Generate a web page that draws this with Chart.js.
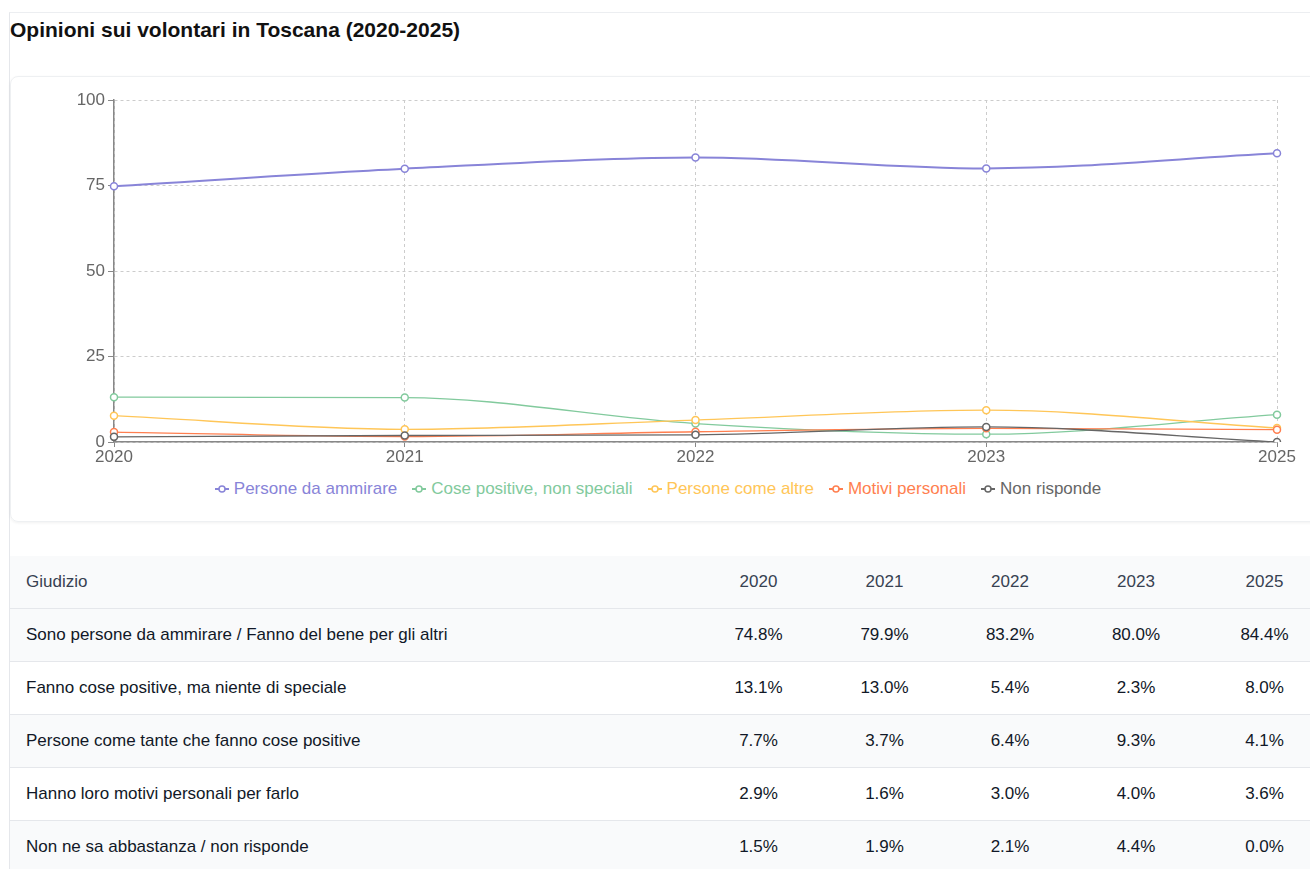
<!DOCTYPE html>
<html lang="it">
<head>
  <meta charset="UTF-8">
  <title>Opinioni sui volontari in Toscana</title>
  <script src="https://cdn.jsdelivr.net/npm/chart.js"></script>
  <style>
    html, body {
      margin: 0;
      background: #fff;
      overflow: hidden;
      font-family: "Liberation Sans", Arial, Helvetica, sans-serif;
    }
    .page {
      position: absolute;
      left: 9px;
      top: 12px;
      width: 1330px;
      border-left: 1px solid #e5e7eb;
      border-top: 1px solid #eceef1;
    }
    h2 {
      margin: 0;
      padding-top: 5px;
      height: 58px;
      font-size: 21px;
      font-weight: bold;
      color: #111;
      line-height: 24px;
    }
    .card {
      width: 1320px;
      height: 446px;
      border: 1px solid #eef0f2;
      border-radius: 8px;
      box-shadow: 0 1px 3px rgba(0,0,0,0.06);
      box-sizing: border-box;
      position: relative;
    }
    .chart-box {
      position: absolute;
      left: 16px;
      top: 9px;
      width: 1274px;
      height: 384px;
    }
    .legend {
      position: absolute;
      left: 16px;
      top: 400px;
      width: 1262px;
      display: flex;
      justify-content: center;
      font-size: 17px;
      line-height: 24px;
    }
    .legend-item {
      display: flex;
      align-items: center;
      margin: 0 7.5px;
    }
    .legend-item svg {
      margin-right: 5px;
    }
    table {
      margin-top: 34px;
      width: 1320px;
      border-collapse: collapse;
      table-layout: fixed;
      font-size: 17px;
      color: #111827;
    }
    th, td {
      padding: 14px 16px;
      line-height: 24px;
      border-bottom: 1px solid #e5e7eb;
      text-align: center;
      font-weight: normal;
    }
    th { color: #374151; background: #f9fafb; }
    th:first-child, td:first-child { text-align: left; }
    tbody tr:nth-child(odd) { background: #f9fafb; }
  </style>
</head>
<body>
  <div class="page">
    <h2>Opinioni sui volontari in Toscana (2020-2025)</h2>
    <div class="card">
      <div class="chart-box"><canvas id="volChart"></canvas></div>
      <div class="legend" id="chartLegend"></div>
    </div>
    <table>
      <colgroup>
        <col style="width:685px">
        <col style="width:127px"><col style="width:125px"><col style="width:126px"><col style="width:126px"><col style="width:131px">
      </colgroup>
      <thead><tr id="headRow"><th>Giudizio</th></tr></thead>
      <tbody id="tableBody"></tbody>
    </table>
  </div>

  <script>
    const years = ['2020', '2021', '2022', '2023', '2025'];
    const yTicks = [0, 25, 50, 75, 100];

    const shortNames = ['Persone da ammirare', 'Cose positive, non speciali', 'Persone come altre', 'Motivi personali', 'Non risponde'];
    const fullNames = [
      'Sono persone da ammirare / Fanno del bene per gli altri',
      'Fanno cose positive, ma niente di speciale',
      'Persone come tante che fanno cose positive',
      'Hanno loro motivi personali per farlo',
      'Non ne sa abbastanza / non risponde'
    ];

    const ammirare = [74.8, 79.9, 83.2, 80.0, 84.4];
    const cosePositive = [13.1, 13.0, 5.4, 2.3, 8.0];
    const comeAltre = [7.7, 3.7, 6.4, 9.3, 4.1];
    const motiviPersonali = [2.9, 1.6, 3.0, 4.0, 3.6];
    const nonRisponde = [1.5, 1.9, 2.1, 4.4, 0.0];

    const colors = ['#8884d8', '#82ca9d', '#ffc658', '#ff7f50', '#666666'];
    const widths = [2, 1.3, 1.3, 1.3, 1.3];
    const series = [ammirare, cosePositive, comeAltre, motiviPersonali, nonRisponde];

    const ctx = document.getElementById('volChart').getContext('2d');
    const chart = new Chart(ctx, {
      type: 'line',
      data: {
        labels: years,
        datasets: series.map((vals, i) => ({
          label: shortNames[i],
          data: vals,
          borderColor: colors[i],
          backgroundColor: '#fff',
          borderWidth: widths[i],
          pointRadius: 3.5,
          pointBorderWidth: 1.5,
          pointBackgroundColor: '#fff',
          pointBorderColor: colors[i],
          cubicInterpolationMode: 'monotone',
          fill: false,
          order: 5 - i
        }))
      },
      options: {
        responsive: true,
        maintainAspectRatio: false,
        animation: false,
        layout: { padding: { top: 14, right: 24, bottom: 0, left: 0 } },
        plugins: {
          legend: { display: false },
          tooltip: { enabled: true }
        },
        scales: {
          x: {
            offset: false,
            grid: {
              color: '#cccccc',
              tickColor: '#888',
              tickLength: 5,
              tickBorderDash: []
            },
            // in v4 border.dash tratteggia le linee della griglia
            border: { color: '#888', width: 1.5, dash: [3, 3] },
            ticks: { color: '#666', font: { size: 17 }, padding: 0, maxRotation: 0 },
            afterFit: s => { s.height = 28; }
          },
          y: {
            min: 0,
            max: 100,
            afterBuildTicks: s => { s.ticks = yTicks.map(v => ({ value: v })); },
            grid: {
              color: '#cccccc',
              tickColor: '#888',
              tickLength: 6,
              tickBorderDash: []
            },
            border: { color: '#888', width: 1.5, dash: [3, 3] },
            ticks: { color: '#666', font: { size: 17 }, padding: 3 },
            afterFit: s => { s.width = 87; }
          }
        }
      }
    });

    // legend con icona linea + cerchio
    const legendContainer = document.getElementById('chartLegend');
    shortNames.forEach((name, i) => {
      const item = document.createElement('div');
      item.className = 'legend-item';
      item.style.color = colors[i];
      item.innerHTML =
        '<svg width="14" height="14" viewBox="0 0 14 14">' +
        '<line x1="0" y1="7" x2="14" y2="7" stroke="' + colors[i] + '" stroke-width="2"/>' +
        '<circle cx="7" cy="7" r="3" fill="#fff" stroke="' + colors[i] + '" stroke-width="1.5"/></svg>';
      const span = document.createElement('span');
      span.textContent = name;
      item.appendChild(span);
      legendContainer.appendChild(item);
    });

    // tabella
    const headRow = document.getElementById('headRow');
    years.forEach(y => {
      const th = document.createElement('th');
      th.textContent = y;
      headRow.appendChild(th);
    });
    const tbody = document.getElementById('tableBody');
    fullNames.forEach((name, i) => {
      const tr = document.createElement('tr');
      const td0 = document.createElement('td');
      td0.textContent = name;
      tr.appendChild(td0);
      series[i].forEach(v => {
        const td = document.createElement('td');
        td.textContent = v.toFixed(1) + '%';
        tr.appendChild(td);
      });
      tbody.appendChild(tr);
    });
  </script>
</body>
</html>
